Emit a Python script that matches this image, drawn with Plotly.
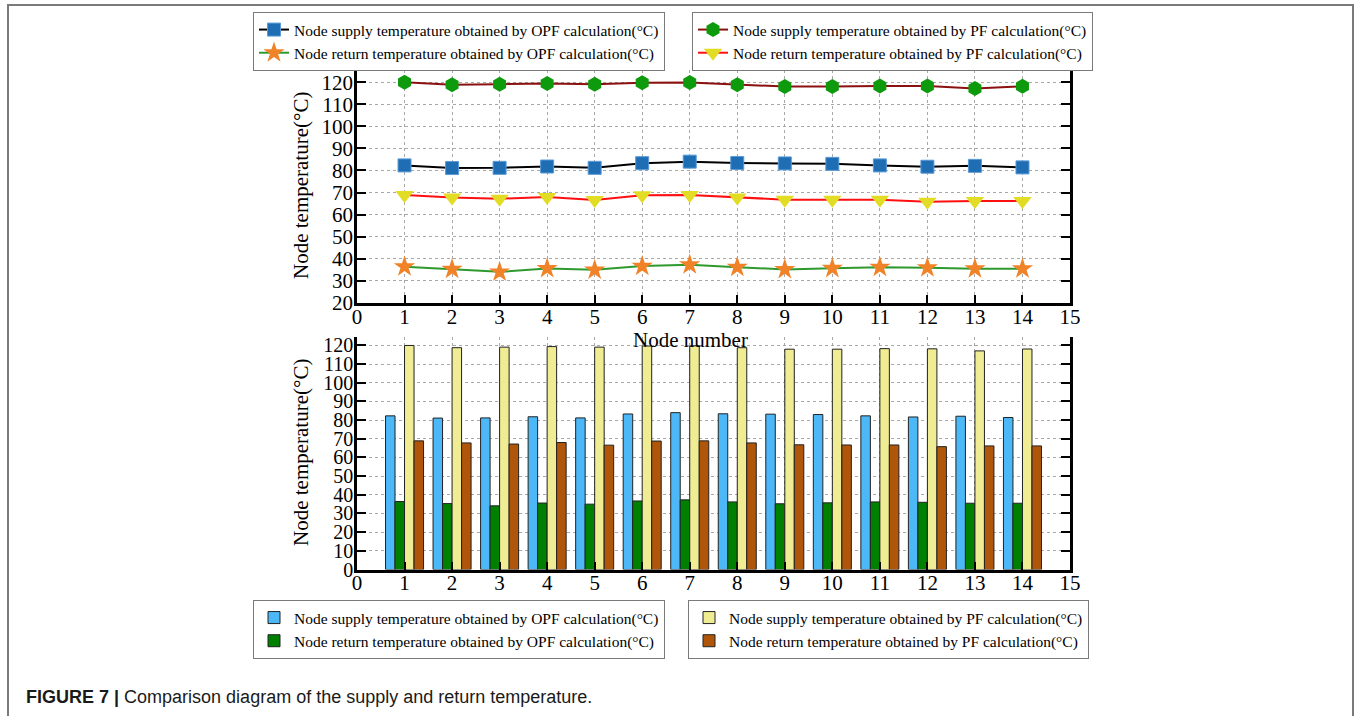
import plotly.graph_objects as go

nodes = list(range(1, 15))
supply_opf = [82.3, 81.1, 81.2, 81.8, 81.2, 83.3, 84.0, 83.4, 83.2, 83.0, 82.3, 81.7, 82.1, 81.4]
return_opf = [36.4, 35.3, 34.1, 35.6, 35.0, 36.7, 37.3, 36.2, 35.2, 35.7, 36.2, 36.0, 35.5, 35.5]
supply_pf = [120.0, 118.8, 119.1, 119.4, 119.1, 119.7, 119.8, 118.8, 118.0, 118.0, 118.3, 118.2, 117.1, 118.1]
return_pf = [68.9, 67.8, 67.2, 68.0, 66.6, 68.8, 68.9, 67.8, 66.8, 66.7, 66.7, 65.8, 66.2, 66.2]

name_s_opf = "Node supply temperature obtained by OPF calculation(°C)"
name_r_opf = "Node return temperature obtained by OPF calculation(°C)"
name_s_pf = "Node supply temperature obtained by PF calculation(°C)"
name_r_pf = "Node return temperature obtained by PF calculation(°C)"

x_ticks = list(range(0, 16))
y_ticks_top = list(range(20, 121, 10))
y_ticks_bot = list(range(0, 121, 10))

W, H = 1356, 716
SERIF = "Liberation Serif, Times New Roman, serif"

def px(x):
    return x / W

def py(y):
    return 1 - y / H

fig = go.Figure()

# Top: line charts
fig.add_trace(go.Scatter(x=nodes, y=supply_opf, mode="lines+markers", name=name_s_opf,
                         line=dict(color="black", width=2),
                         marker=dict(symbol="square", size=13, color="#1f6db3", line=dict(color="#5a9ad8", width=1)),
                         xaxis="x", yaxis="y", legend="legend"))
fig.add_trace(go.Scatter(x=nodes, y=return_opf, mode="lines+markers", name=name_r_opf,
                         line=dict(color="#2e9a2e", width=2),
                         marker=dict(symbol="star", size=16, color="#f08228", line=dict(width=0)),
                         xaxis="x", yaxis="y", legend="legend"))
fig.add_trace(go.Scatter(x=nodes, y=supply_pf, mode="lines+markers", name=name_s_pf,
                         line=dict(color="#8b1010", width=2),
                         marker=dict(symbol="hexagon", size=15, color="#0d9a0d", line=dict(width=0)),
                         xaxis="x", yaxis="y", legend="legend2"))
fig.add_trace(go.Scatter(x=nodes, y=return_pf, mode="lines+markers", name=name_r_pf,
                         line=dict(color="#ff1010", width=2),
                         marker=dict(symbol="triangle-down", size=16, color="#e2dc24", line=dict(width=0)),
                         xaxis="x", yaxis="y", legend="legend2"))

# Bottom: grouped bars
bar_line = dict(color="#222222", width=1)
fig.add_trace(go.Bar(x=nodes, y=supply_opf, name=name_s_opf, marker=dict(color="#4cb8f8", line=bar_line),
                     xaxis="x2", yaxis="y2", legend="legend3"))
fig.add_trace(go.Bar(x=nodes, y=return_opf, name=name_r_opf, marker=dict(color="#008000", line=bar_line),
                     xaxis="x2", yaxis="y2", legend="legend3"))
fig.add_trace(go.Bar(x=nodes, y=supply_pf, name=name_s_pf, marker=dict(color="#efec93", line=bar_line),
                     xaxis="x2", yaxis="y2", legend="legend4"))
fig.add_trace(go.Bar(x=nodes, y=return_pf, name=name_r_pf, marker=dict(color="#b0560a", line=bar_line),
                     xaxis="x2", yaxis="y2", legend="legend4"))

xdom = [px(357), px(1070)]
GRID = "#a8a8a8"

def tickfont(size):
    return dict(family=SERIF, size=size, color="black")

def xaxis_cfg(anchor):
    return dict(domain=xdom, anchor=anchor, range=[0, 15], tickvals=x_ticks,
                ticks="inside", ticklen=8, tickwidth=2, tickcolor="black",
                showline=True, linewidth=2.5, linecolor="black",
                showgrid=True, gridcolor=GRID, griddash="3px,3px", gridwidth=1,
                zeroline=False, tickfont=tickfont(21), automargin=False, ticklabelstandoff=-7)

def yaxis_cfg(anchor, dom, rng, tv, fs):
    return dict(domain=dom, anchor=anchor, range=rng, tickvals=tv,
                ticks="inside", ticklen=9, tickwidth=2, tickcolor="black",
                showline=True, linewidth=2.5, linecolor="black",
                showgrid=True, gridcolor=GRID, griddash="3px,3px", gridwidth=1,
                zeroline=False, tickfont=tickfont(fs), automargin=False, ticklabelstandoff=-3)

def yright_cfg(over, anchor, rng, tv):
    return dict(overlaying=over, anchor=anchor, side="right", range=rng, tickvals=tv,
                ticks="inside", ticklen=9, tickwidth=2, tickcolor="black",
                showline=True, linewidth=2.5, linecolor="black",
                showgrid=False, zeroline=False, showticklabels=False, automargin=False)

top_dom = [py(303), py(70)]
bot_dom = [py(569.5), py(336.5)]
top_rng = [20, 125.5]
bot_rng = [0, 124.8]

legend_common = dict(bgcolor="white", bordercolor="#7a7a7a", borderwidth=1,
                     font=dict(family=SERIF, size=15.5, color="black"),
                     xanchor="left", yanchor="top", tracegroupgap=0, itemclick=False)

fig.update_layout(
    width=W, height=H,
    margin=dict(l=0, r=0, t=0, b=0),
    paper_bgcolor="white", plot_bgcolor="white",
    barmode="group", bargap=0.2, bargroupgap=0.0,
    xaxis=xaxis_cfg("y"),
    yaxis=yaxis_cfg("x", top_dom, top_rng, y_ticks_top, 21),
    yaxis3=yright_cfg("y", "x", top_rng, y_ticks_top),
    xaxis2=xaxis_cfg("y2"),
    yaxis2=yaxis_cfg("x2", bot_dom, bot_rng, y_ticks_bot, 20),
    yaxis4=yright_cfg("y2", "x2", bot_rng, y_ticks_bot),
    legend=dict(x=px(253), y=py(12), **legend_common),
    legend2=dict(x=px(692), y=py(12), **legend_common),
    legend3=dict(x=px(253), y=py(600), **legend_common),
    legend4=dict(x=px(688), y=py(600), **legend_common),
    showlegend=True,
)

# invisible traces to activate right-side axes
fig.add_trace(go.Scatter(x=[None], y=[None], xaxis="x", yaxis="y3", showlegend=False, hoverinfo="skip"))
fig.add_trace(go.Scatter(x=[None], y=[None], xaxis="x2", yaxis="y4", showlegend=False, hoverinfo="skip"))

# Axis titles
title_font = dict(family=SERIF, size=21, color="black")
fig.add_annotation(text="Node number", x=px(690), y=py(340), xref="paper", yref="paper",
                   showarrow=False, font=title_font, xanchor="center", yanchor="middle")
fig.add_annotation(text="Node temperature(°C)", x=px(301), y=py(186), xref="paper", yref="paper",
                   showarrow=False, font=title_font, textangle=-90, xanchor="center", yanchor="middle")
fig.add_annotation(text="Node temperature(°C)", x=px(301), y=py(453), xref="paper", yref="paper",
                   showarrow=False, font=title_font, textangle=-90, xanchor="center", yanchor="middle")

# Caption
fig.add_annotation(text="<b>FIGURE 7 |</b> Comparison diagram of the supply and return temperature.",
                   x=px(24), y=py(697), xref="paper", yref="paper", showarrow=False,
                   font=dict(family="Liberation Sans, Arial, sans-serif", size=18, color="#1a1a1a"),
                   xanchor="left", yanchor="middle")

# Outer frame
fig.add_shape(type="rect", xref="paper", yref="paper", x0=px(8), x1=px(1353), y0=py(730), y1=py(5),
              line=dict(color="#7a7a7a", width=2), fillcolor="rgba(0,0,0,0)", layer="below")

fig.write_html("out.html", config={"displayModeBar": False},
               post_script="document.body.style.margin='0px';")
